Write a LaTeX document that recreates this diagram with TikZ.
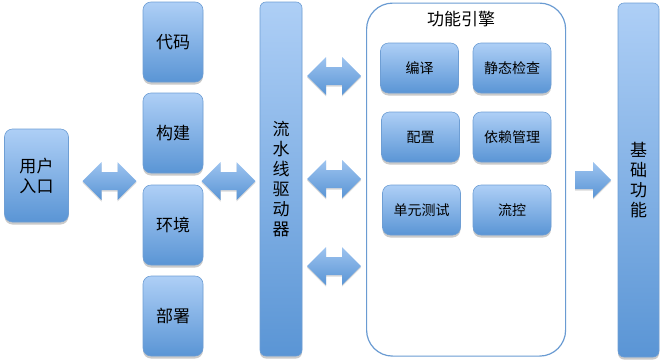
\documentclass[tikz,border=0pt]{standalone}
\usepackage{fontspec}
\setmainfont{Noto Sans CJK SC}
\usetikzlibrary{shadows,calc}
\definecolor{topc}{HTML}{AECFF6}
\definecolor{botc}{HTML}{5A95D5}
\definecolor{edgec}{HTML}{6E9ED4}
\definecolor{framec}{HTML}{6A9BD2}
\tikzset{
  blue box/.style={draw=edgec, line width=0.6pt, top color=topc, bottom color=botc,
    rounded corners=8pt, drop shadow={shadow xshift=0pt, shadow yshift=-2.5pt, opacity=0.35, fill=black!60},
    text=black, align=center},
  bar/.style={blue box, rounded corners=6pt},
  big/.style={font=\fontsize{17}{20}\selectfont},
  small/.style={font=\fontsize{14}{17}\selectfont},
  arrowfill/.style={draw=none, top color=topc!80!botc, bottom color=botc,
    drop shadow={shadow xshift=0pt, shadow yshift=-1.5pt, opacity=0.25, fill=black!60}},
}
\newcommand{\dblarr}[2]{%
  \path[arrowfill] (#1-27,#2) -- (#1-8,#2-19) -- (#1-8,#2-9) -- (#1+8,#2-9) -- (#1+8,#2-19)
    -- (#1+27,#2) -- (#1+8,#2+19) -- (#1+8,#2+9) -- (#1-8,#2+9) -- (#1-8,#2+19) -- cycle;}
\begin{document}
\begin{tikzpicture}[x=1pt,y=-1pt]
\useasboundingbox (0,0) rectangle (663,362);
% container
\node[draw=framec, line width=1.2pt, rounded corners=26pt, minimum width=199pt, minimum height=353pt, anchor=north west] (engine) at (366,2.5) {};
\node[font=\fontsize{17}{20}\selectfont] (title) at (461,19) {功能引擎};
% left
\node[blue box, big, minimum width=64pt, minimum height=93pt] (user) at (36.5,175.5) {用户\\入口};
% column
\node[blue box, big, minimum width=60pt, minimum height=80pt] (code) at (173,42) {代码};
\node[blue box, big, minimum width=60pt, minimum height=80pt] (build) at (173,133) {构建};
\node[blue box, big, minimum width=60pt, minimum height=80pt] (env) at (173,225) {环境};
\node[blue box, big, minimum width=60pt, minimum height=80pt] (deploy) at (173,316) {部署};
% pipeline bar
\node[bar, big, minimum width=42pt, minimum height=354pt] (pipe) at (281,179) {流\\水\\线\\驱\\动\\器};
% inner boxes
\node[blue box, small, minimum width=78pt, minimum height=50pt] (compile) at (419.5,68) {编译};
\node[blue box, small, minimum width=78pt, minimum height=50pt] (static) at (512,68) {静态检查};
\node[blue box, small, minimum width=78pt, minimum height=50pt] (config) at (420.5,137) {配置};
\node[blue box, small, minimum width=78pt, minimum height=50pt] (dep) at (512,137) {依赖管理};
\node[blue box, small, minimum width=78pt, minimum height=50pt] (unit) at (421.5,210) {单元测试};
\node[blue box, small, minimum width=78pt, minimum height=50pt] (flow) at (512,210) {流控};
% base bar
\node[bar, big, minimum width=41pt, minimum height=354pt] (base) at (638.5,180) {基\\础\\功\\能};
% arrows
\dblarr{109.5}{181}
\dblarr{228.5}{181}
\dblarr{334}{76}
\dblarr{334}{179}
\dblarr{334}{266}
\path[arrowfill] (575,171) -- (593,171) -- (593,162) -- (611,180) -- (593,198) -- (593,189) -- (575,189) -- cycle;
\end{tikzpicture}
\end{document}
